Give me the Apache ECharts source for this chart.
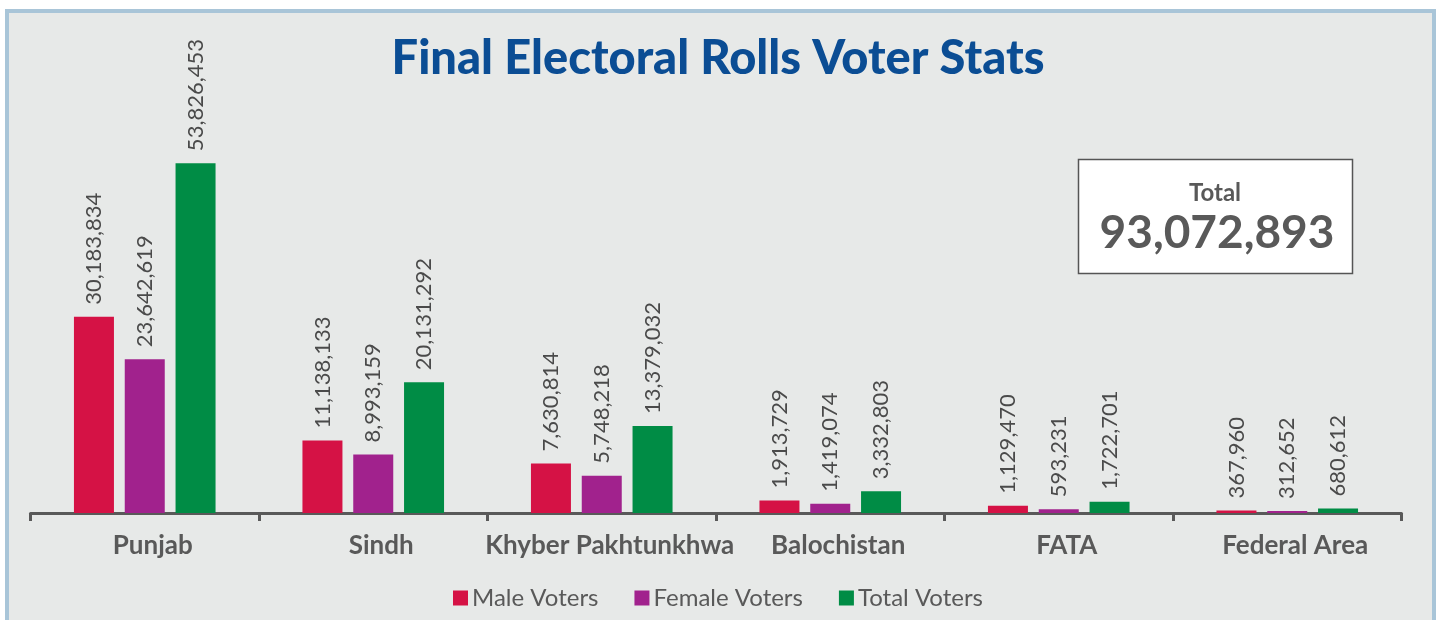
<!DOCTYPE html>
<html>
<head>
<meta charset="utf-8">
<script src="https://cdn.jsdelivr.net/npm/echarts@6/dist/echarts.min.js"></script>
<style>
  html, body { margin: 0; padding: 0; background: #ffffff; }
  #chart { width: 1436px; height: 620px; }
</style>
</head>
<body>
<div id="chart"></div>
<script>
// provinces / areas on the x axis
const regions = ['Punjab', 'Sindh', 'Khyber Pakhtunkhwa', 'Balochistan', 'FATA', 'Federal Area']
const maleVoters = [30183834, 11138133, 7630814, 1913729, 1129470, 367960]
const femaleVoters = [23642619, 8993159, 5748218, 1419074, 593231, 312652]
const totalVoters = [53826453, 20131292, 13379032, 3332803, 1722701, 680612]
const grandTotal = '93,072,893'

const fontFam = 'Lato, "Open Sans", sans-serif'
const grey = '#595959'

let myChart = echarts.init(document.getElementById('chart'))

function fmt(v) {
  return v.toLocaleString('en-US')
}

const valueLabel = {
  show: true,
  position: 'top',
  rotate: 90,
  align: 'left',
  verticalAlign: 'middle',
  distance: 12,
  color: '#4a4a4a',
  fontFamily: fontFam,
  fontSize: 22,
  formatter: function (p) { return fmt(p.value) }
}

function makeSeries(name, data, color) {
  return {
    name: name,
    type: 'bar',
    data: data,
    barWidth: 40,
    barGap: '27%',
    itemStyle: { color: color },
    label: valueLabel
  }
}

let option = {
  backgroundColor: '#ffffff',
  animation: false,
  title: {
    text: 'Final Electoral Rolls Voter Stats',
    left: 'center',
    top: 30,
    textStyle: {
      color: '#0b4d94',
      fontFamily: fontFam,
      fontWeight: 900,
      fontSize: 47
    }
  },
  legend: {
    bottom: 5,
    left: 'center',
    itemWidth: 15,
    itemHeight: 15,
    itemGap: 36,
    icon: 'rect',
    textStyle: { color: grey, fontFamily: fontFam, fontSize: 24, padding: [0, 0, 0, -1] },
    data: ['Male Voters', 'Female Voters', 'Total Voters']
  },
  grid: {
    left: 30.5,
    right: 34.5,
    top: 123,
    bottom: 107
  },
  xAxis: {
    type: 'category',
    data: regions,
    axisLine: { lineStyle: { color: grey, width: 3 } },
    axisTick: { show: true, interval: 0, length: 8, lineStyle: { color: grey, width: 3 } },
    axisLabel: {
      interval: 0,
      color: grey,
      fontFamily: fontFam,
      fontWeight: 'bold',
      fontSize: 26,
      margin: 20,
      padding: [0, 0, 0, 16]
    }
  },
  yAxis: {
    type: 'value',
    min: 0,
    max: 60000000,
    show: false,
    splitLine: { show: false }
  },
  graphic: [
    {
      type: 'rect',
      z: -10,
      silent: true,
      shape: { x: 7, y: 11, width: 1427, height: 640 },
      style: { fill: '#e7e9e8', stroke: '#a9c5d8', lineWidth: 4 }
    },
    {
      type: 'rect',
      silent: true,
      shape: { x: 1078.5, y: 159.5, width: 274, height: 114 },
      style: { fill: '#ffffff', stroke: '#555555', lineWidth: 1.5 }
    },
    {
      type: 'text',
      silent: true,
      x: 1215, y: 193,
      style: {
        text: 'Total',
        fill: grey,
        font: 'bold 24px ' + fontFam,
        textAlign: 'center',
        textVerticalAlign: 'middle'
      }
    },
    {
      type: 'text',
      silent: true,
      x: 1217, y: 233,
      style: {
        text: grandTotal,
        fill: grey,
        font: 'bold 46px ' + fontFam,
        textAlign: 'center',
        textVerticalAlign: 'middle'
      }
    }
  ],
  series: [
    makeSeries('Male Voters', maleVoters, '#d51245'),
    makeSeries('Female Voters', femaleVoters, '#a1228d'),
    makeSeries('Total Voters', totalVoters, '#008c45')
  ]
}

myChart.setOption(option)
window.addEventListener('resize', function () {
  myChart.resize()
})
</script>
</body>
</html>
